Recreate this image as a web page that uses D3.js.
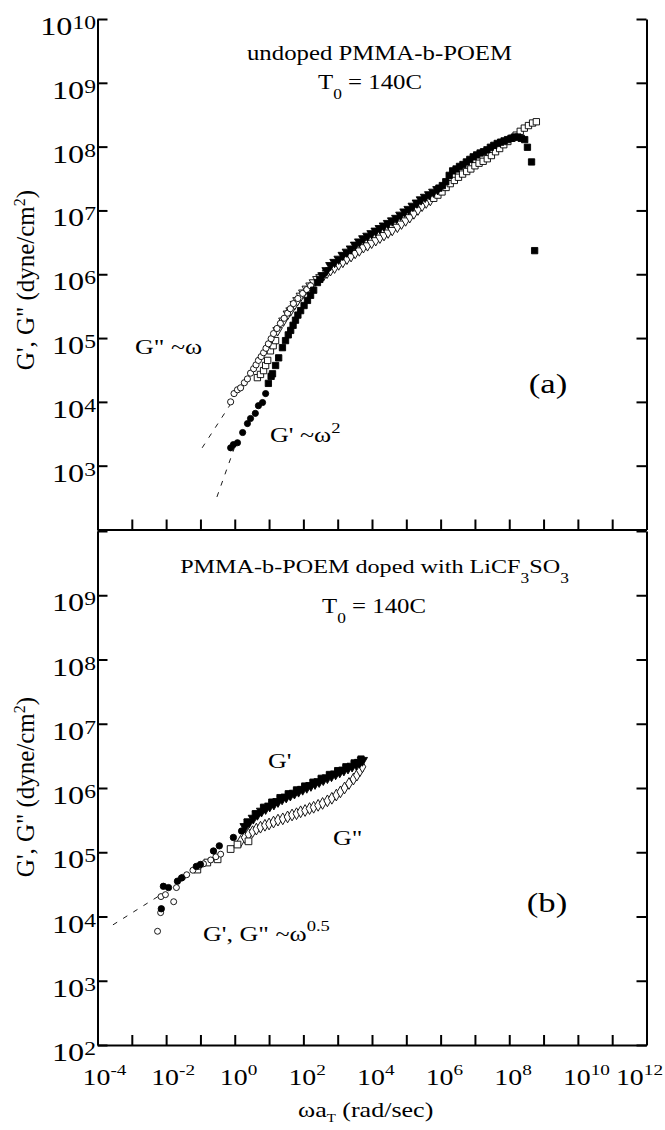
<!DOCTYPE html>
<html>
<head>
<meta charset="utf-8">
<script src="https://cdn.jsdelivr.net/npm/d3@7"></script>
<style>
  body { margin: 0; background: #fff; }
  svg { display: block; }
  text { white-space: pre; }
</style>
</head>
<body>
<svg id="chart" width="665" height="1130"></svg>
<script>
// values are [log10(omega a_T), log10(G)]

// (a) undoped - G'' (open symbols)
const topGppCircles = [[-0.12,4.00],[-0.02,4.13],[0.08,4.19],[0.17,4.22],[0.28,4.30],[0.37,4.36],[0.46,4.45],[0.55,4.52],[0.62,4.58],[0.69,4.65],[0.77,4.71],[0.84,4.77],[0.91,4.84],[0.98,4.91],[1.06,4.99],[1.13,5.07],[1.23,5.15],[1.33,5.23],[1.44,5.31],[1.54,5.39],[1.62,5.46],[1.71,5.54],[1.84,5.62],[1.98,5.70],[2.10,5.76],[2.21,5.82]];
const topGppSquares = [[0.66,4.38],[0.75,4.43],[0.84,4.49],[0.90,4.57],[0.96,4.65],[1.04,4.80],[1.12,4.88],[1.19,4.96]];
const topGppTriangles = [[1.25,5.12],[1.42,5.27],[1.55,5.38],[1.63,5.43],[1.75,5.53],[1.83,5.59],[1.93,5.66],[2.00,5.71],[2.10,5.77],[2.21,5.82],[2.31,5.87],[2.41,5.92],[2.50,5.95],[2.59,5.98],[2.69,6.02],[2.79,6.06],[2.91,6.10],[3.03,6.15],[3.15,6.19],[3.27,6.24],[3.39,6.28],[3.51,6.33],[3.63,6.37],[3.75,6.42],[3.87,6.45],[3.99,6.49],[4.11,6.53],[4.23,6.57],[4.35,6.61],[4.47,6.65],[4.59,6.69],[4.74,6.74],[4.86,6.79],[4.98,6.84],[5.10,6.89],[5.22,6.95],[5.34,7.01],[5.46,7.07],[5.58,7.12],[5.70,7.16]];
const topGppSquares2 = [[5.80,7.19],[5.92,7.24],[6.04,7.29],[6.16,7.36],[6.28,7.42],[6.40,7.47],[6.52,7.52],[6.64,7.57],[6.76,7.61],[6.88,7.65],[7.00,7.70],[7.12,7.74],[7.24,7.77],[7.36,7.81],[7.48,7.86],[7.60,7.92],[7.72,7.97],[7.84,8.03],[7.96,8.08],[8.08,8.13],[8.20,8.18],[8.32,8.24],[8.44,8.29],[8.56,8.33],[8.68,8.37],[8.79,8.39]];

// (a) undoped - G' (filled symbols)
const topGpCircles = [[-0.12,3.28],[-0.04,3.33],[0.08,3.36],[0.23,3.52],[0.37,3.66],[0.46,3.74],[0.60,3.82],[0.69,3.94],[0.81,3.99],[0.90,4.13]];
const topGpSquares = [[0.98,4.29],[1.06,4.40],[1.10,4.44],[1.19,4.57],[1.28,4.69],[1.39,4.85],[1.48,4.96],[1.56,5.05],[1.63,5.12],[1.70,5.20],[1.77,5.28],[1.84,5.36],[1.92,5.43],[2.02,5.51],[2.12,5.59],[2.21,5.67],[2.30,5.75],[2.41,5.87],[2.48,5.92]];
const topGpTriangles = [[2.56,5.98],[2.68,6.06],[2.79,6.14],[2.91,6.19],[3.03,6.24],[3.15,6.30],[3.27,6.35],[3.39,6.40],[3.51,6.46],[3.63,6.51],[3.75,6.56],[3.87,6.60],[3.99,6.64],[4.11,6.68],[4.23,6.72],[4.35,6.76],[4.47,6.80],[4.59,6.84],[4.71,6.88],[4.83,6.93],[4.95,6.98],[5.07,7.02],[5.19,7.07],[5.31,7.12],[5.43,7.17],[5.55,7.21],[5.67,7.25],[5.79,7.29],[5.91,7.33]];
const topGpSquares2 = [[5.95,7.35],[6.05,7.39],[6.15,7.45],[6.25,7.55],[6.35,7.62],[6.45,7.65],[6.55,7.69],[6.65,7.72],[6.75,7.76],[6.85,7.80],[6.95,7.84],[7.05,7.87],[7.15,7.90],[7.25,7.92],[7.35,7.95],[7.45,7.99],[7.55,8.02],[7.65,8.05],[7.75,8.07],[7.85,8.09],[7.95,8.11],[8.05,8.13],[8.15,8.15],[8.25,8.15],[8.35,8.13],[8.45,8.11],[8.53,7.99],[8.65,7.76],[8.74,6.37]];

// (b) doped - G'' (open symbols)
const botGppCircles = [[-2.25,3.77],[-2.16,4.06],[-2.15,4.31],[-2.02,4.34],[-1.78,4.23],[-1.70,4.45],[-1.52,4.61],[-1.40,4.65],[-1.22,4.72],[-1.05,4.78],[-0.91,4.82],[-0.70,4.88],[-0.55,4.93],[-0.41,4.97]];
const botGppSquares = [[-1.09,4.73],[-0.80,4.84],[-0.50,4.89],[-0.12,5.05],[0.08,5.12],[0.40,5.17]];
const botGppDiamonds = [[0.17,5.17],[0.29,5.23],[0.40,5.28],[0.52,5.32],[0.63,5.36],[0.75,5.39],[0.88,5.42],[1.00,5.44],[1.13,5.47],[1.26,5.50],[1.40,5.52],[1.54,5.55],[1.67,5.58],[1.80,5.60],[1.92,5.63],[2.05,5.65],[2.18,5.68],[2.30,5.70],[2.43,5.73],[2.56,5.76],[2.70,5.80],[2.83,5.84],[2.96,5.89],[3.08,5.94],[3.20,6.00],[3.33,6.07],[3.46,6.14],[3.56,6.20],[3.65,6.27],[3.72,6.33]];

// (b) doped - G' (filled symbols)
const botGpCircles = [[-2.14,4.12],[-2.08,4.47],[-1.93,4.45],[-1.67,4.55],[-1.55,4.60],[-1.12,4.78],[-1.00,4.81],[-0.62,5.02],[-0.45,5.10],[-0.04,5.23],[0.20,5.33]];
const botGpTriangles = [[0.30,5.40],[0.42,5.47],[0.54,5.53],[0.66,5.59],[0.78,5.64],[0.90,5.68],[1.02,5.72],[1.14,5.75],[1.26,5.79],[1.38,5.83],[1.50,5.86],[1.62,5.89],[1.74,5.92],[1.86,5.95],[1.98,5.98],[2.10,6.01],[2.22,6.04],[2.34,6.07],[2.46,6.10],[2.58,6.13],[2.70,6.16],[2.82,6.19],[2.94,6.22],[3.06,6.25],[3.18,6.28],[3.30,6.31],[3.42,6.34],[3.54,6.37],[3.64,6.40],[3.72,6.43]];
const botGpSquares = [[0.36,5.47],[0.60,5.60],[0.84,5.70],[1.08,5.78],[1.32,5.85],[1.56,5.91],[1.80,5.97],[2.04,6.03],[2.28,6.09],[2.52,6.15],[2.76,6.21],[3.00,6.27],[3.24,6.33],[3.48,6.39],[3.68,6.45]];

// dashed power-law guides (end points)
const topGppSlope = [[-0.95,3.28],[-0.14,3.95]];
const topGpSlope = [[-0.52,2.51],[-0.01,3.28]];
const botSlope = [[-3.55,3.87],[-2.24,4.31]];

// tick exponents
const xTickExps = d3.range(-4, 13);
const xLabelExps = [-4, -2, 0, 2, 4, 6, 8, 10, 12];
const yTickExps = d3.range(2, 11);
const topLabelExps = [3, 4, 5, 6, 7, 8, 9, 10];
const botLabelExps = [2, 3, 4, 5, 6, 7, 8, 9];

const svg = d3.select("#chart");
const SERIF = "'Liberation Serif', 'Times New Roman', serif";
const SX = 1.24;   // the scanned figure is stretched sideways

const x = d3.scaleLog().domain([1e-4, 1e12]).range([97.5, 646.5]);
const yTop = d3.scaleLog().domain([1e2, 1e10]).range([529.5, 19]);
const yBot = d3.scaleLog().domain([1e2, 1e10]).range([1045, 531]);

svg.append("rect").attr("width", 665).attr("height", 1130).attr("fill", "#fff");

function rich(parent, px, py, parts, o) {
  const sx = o.sx ?? SX;
  const t = parent.append("text")
    .attr("transform", `translate(${px},${py})${o.rotate ? ` rotate(${o.rotate})` : ""} scale(${sx},1)`)
    .attr("font-family", SERIF)
    .attr("font-size", o.size)
    .attr("text-anchor", o.anchor || "start")
    .attr("fill", "#000");
  let cur = 0;
  parts.forEach(([s, k]) => {
    const shift = k === "sup" ? -(o.supRaise ?? o.size * 0.38) : k === "sub" ? (o.subDrop ?? o.size * 0.35) : 0;
    const fs = k === "sup" ? (o.supSize ?? o.size * 0.7) : k === "sub" ? (o.subSize ?? o.size * 0.65) : o.size;
    t.append("tspan").attr("dy", shift - cur).attr("font-size", fs).text(s);
    cur = shift;
  });
  return t;
}

function frame(y, labelExps, showX) {
  const [yb] = y.range();
  const g = svg.append("g");
  const tv = yTickExps.map(e => Math.pow(10, e));
  g.append("g").attr("transform", "translate(97.5,0)")
    .call(d3.axisLeft(y).tickValues(tv).tickSizeInner(-10).tickSizeOuter(0).tickFormat(""));
  g.append("g").attr("transform", "translate(646.5,0)")
    .call(d3.axisRight(y).tickValues(tv).tickSizeInner(-10).tickSizeOuter(0).tickFormat(""));
  g.append("g").attr("transform", `translate(0,${yb})`)
    .call(d3.axisBottom(x).tickValues(xTickExps.map(e => Math.pow(10, e))).tickSizeInner(-10).tickSizeOuter(0).tickFormat(""));
  g.selectAll("path, line").attr("stroke", "#000").attr("stroke-width", 2);

  labelExps.forEach(e => {
    rich(svg, 96, y(Math.pow(10, e)) + 16, [["10"], [String(e), "sup"]],
      { size: 26, anchor: "end", supSize: 19, supRaise: 6 });
  });
  if (showX) {
    xLabelExps.forEach(e => {
      const px = x(Math.pow(10, e)) - 15;
      const t = rich(svg, px, yb + 40, [["10"], [String(e), "sup"]],
        { size: 22.5, supSize: 15.5, supRaise: 10 });
      // the last label sits at the page edge: pull it in so it is not cut
      const w = t.node().getBBox().width * SX;
      if (px + w > 663) t.attr("transform", `translate(${663 - w},${yb + 40}) scale(${SX},1)`);
    });
  }
}

function markers(y, data, type, filled, size, rot) {
  svg.append("g").selectAll("path").data(data).join("path")
    .attr("transform", d => `translate(${x(Math.pow(10, d[0]))},${y(Math.pow(10, d[1]))})${rot ? ` rotate(${rot})` : ""}`)
    .attr("d", d3.symbol().type(type).size(size))
    .attr("fill", filled ? "#000" : "#fff")
    .attr("stroke", "#000")
    .attr("stroke-width", 0.9);
}

function dashed(y, pts) {
  svg.append("path")
    .datum(pts)
    .attr("d", d3.line().x(d => x(Math.pow(10, d[0]))).y(d => y(Math.pow(10, d[1]))))
    .attr("fill", "none")
    .attr("stroke", "#000")
    .attr("stroke-width", 0.9)
    .attr("stroke-dasharray", "5,7");
}

// ---- panel (a)
frame(yTop, topLabelExps, false);
dashed(yTop, topGppSlope);
dashed(yTop, topGpSlope);
markers(yTop, topGppTriangles, d3.symbolTriangle, false, 40, 180);
markers(yTop, topGppSquares2, d3.symbolSquare, false, 40);
markers(yTop, topGppSquares, d3.symbolSquare, false, 40);
markers(yTop, topGppCircles, d3.symbolCircle, false, 30);
markers(yTop, topGpCircles, d3.symbolCircle, true, 30);
markers(yTop, topGpSquares, d3.symbolSquare, true, 40);
markers(yTop, topGpTriangles, d3.symbolTriangle, true, 40, 180);
markers(yTop, topGpSquares2, d3.symbolSquare, true, 40);

rich(svg, 379.5, 60, [["undoped PMMA-b-POEM"]], { size: 20, anchor: "middle" });
rich(svg, 370, 89, [["T"], ["0", "sub"], [" = 140C"]], { size: 20, anchor: "middle", subSize: 14, subDrop: 10 });
rich(svg, 135, 354, [["G\" ~ω"]], { size: 21 });
rich(svg, 270, 442, [["G' ~ω"], ["2", "sup"]], { size: 21, supSize: 15, supRaise: 9 });
rich(svg, 548, 393, [["(a)"]], { size: 28, anchor: "middle" });
rich(svg, 34, 280, [["G', G\" (dyne/cm"], ["2", "sup"], [")"]], { size: 25, anchor: "middle", rotate: -90, sx: 1, supSize: 16, supRaise: 9 });

// ---- panel (b)
frame(yBot, botLabelExps, true);
dashed(yBot, botSlope);
markers(yBot, botGppDiamonds, d3.symbolDiamond, false, 40);
markers(yBot, botGppSquares, d3.symbolSquare, false, 45);
markers(yBot, botGppCircles, d3.symbolCircle, false, 28);
markers(yBot, botGpCircles, d3.symbolCircle, true, 32);
markers(yBot, botGpTriangles, d3.symbolTriangle, true, 45, 180);
markers(yBot, botGpSquares, d3.symbolSquare, true, 40);

rich(svg, 374.5, 573, [["PMMA-b-POEM doped with LiCF"], ["3", "sub"], ["SO"], ["3", "sub"]], { size: 19.5, anchor: "middle", subSize: 14, subDrop: 10 });
rich(svg, 374, 613, [["T"], ["0", "sub"], [" = 140C"]], { size: 20, anchor: "middle", subSize: 14, subDrop: 10 });
rich(svg, 268, 768, [["G'"]], { size: 21 });
rich(svg, 333, 845, [["G\""]], { size: 21 });
rich(svg, 547, 912, [["(b)"]], { size: 28, anchor: "middle" });
rich(svg, 203, 941, [["G', G\" ~ω"], ["0.5", "sup"]], { size: 21, supSize: 15, supRaise: 10 });
rich(svg, 34, 787, [["G', G\" (dyne/cm"], ["2", "sup"], [")"]], { size: 25, anchor: "middle", rotate: -90, sx: 1, supSize: 16, supRaise: 9 });
rich(svg, 298, 1117, [["ωa"], ["T", "sub"], [" (rad/sec)"]], { size: 21, subSize: 12, subDrop: 5 });
</script>
</body>
</html>
